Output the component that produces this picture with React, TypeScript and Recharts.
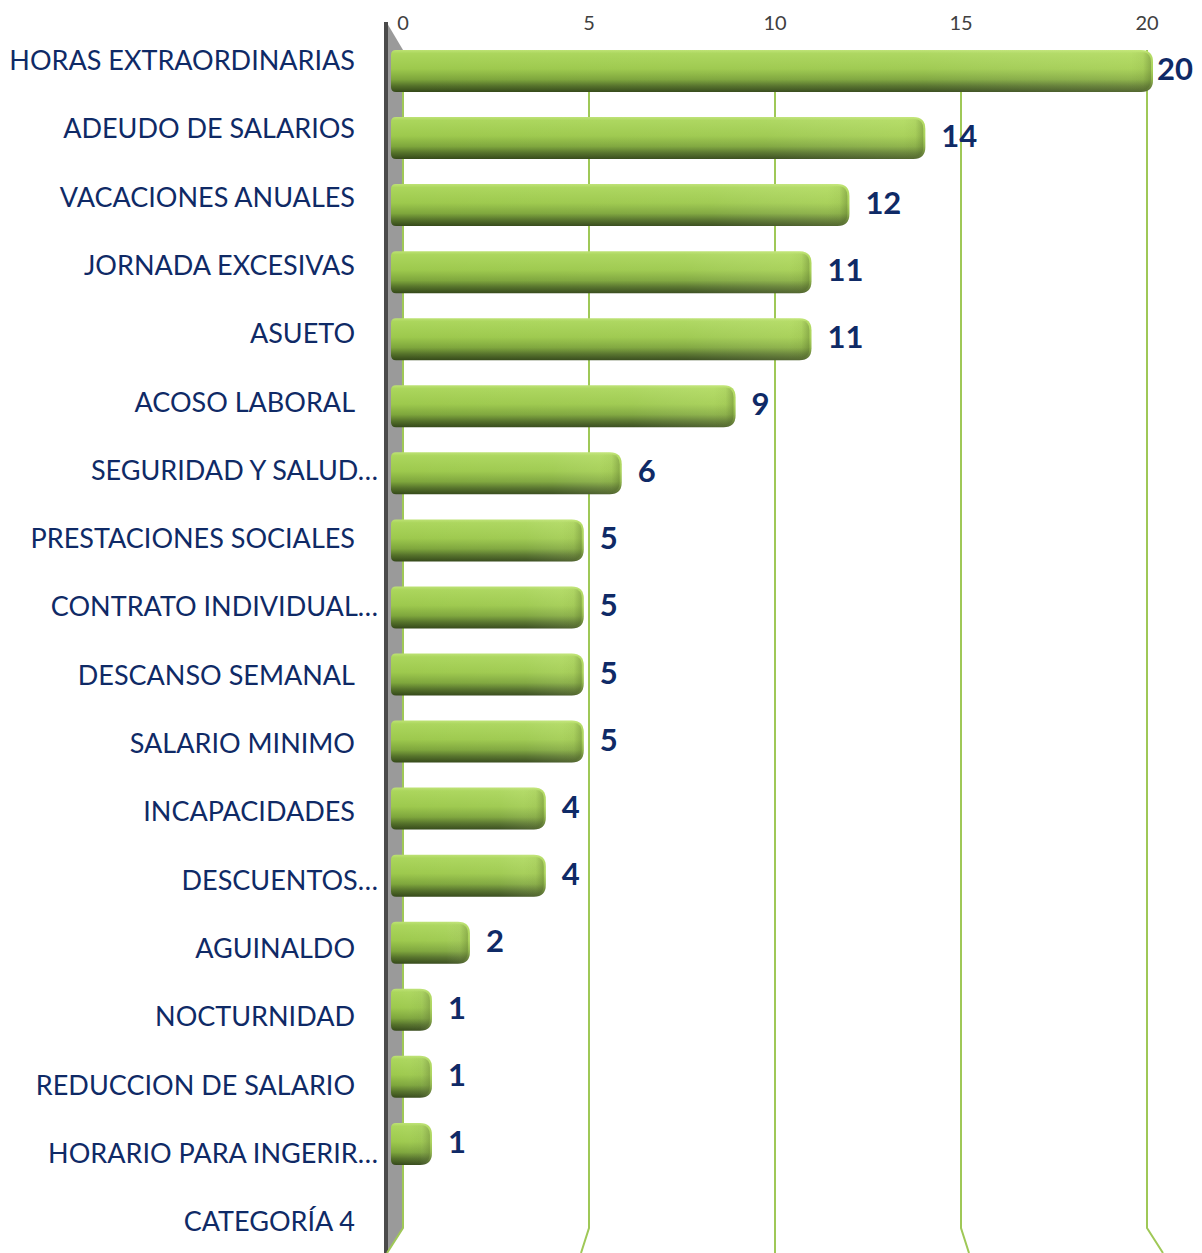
import React from "react";
import { BarChart, Bar, XAxis, YAxis, CartesianGrid, LabelList } from "recharts";

const categories = [
  "HORAS EXTRAORDINARIAS",
  "ADEUDO DE SALARIOS",
  "VACACIONES ANUALES",
  "JORNADA EXCESIVAS",
  "ASUETO",
  "ACOSO LABORAL",
  "SEGURIDAD Y SALUD…",
  "PRESTACIONES SOCIALES",
  "CONTRATO INDIVIDUAL…",
  "DESCANSO SEMANAL",
  "SALARIO MINIMO",
  "INCAPACIDADES",
  "DESCUENTOS…",
  "AGUINALDO",
  "NOCTURNIDAD",
  "REDUCCION DE SALARIO",
  "HORARIO PARA INGERIR…",
  "CATEGORÍA 4",
];
const values: (number | null)[] = [20, 14, 12, 11, 11, 9, 6, 5, 5, 5, 5, 4, 4, 2, 1, 1, 1, null];
const xTicks = [0, 5, 10, 15, 20];

const data = categories.map((name, i) => ({ name, value: values[i] }));

const W = 1202;
const H = 1253;
const LEFT = 394;
const RIGHT = 1153;
const TOP = 37;
const BOTTOM = 1244;
const NAVY = "#0f2a66";
const GRID = "#9fc857";
const FONT = "Lato, 'Open Sans', sans-serif";

// back-wall (grid) perspective: grid plane slightly narrower than bar plane
const toGrid = (px: number) => 403 + (px - LEFT) * (744 / (RIGHT - LEFT));

const GridLine = (props: any) => {
  const { x1, y1, y2, index } = props;
  const gx = toGrid(x1);
  const top = y1 + 13;
  const bend = y2 - 16;
  const bottom = y2 + 9;
  const center = toGrid((LEFT + RIGHT) / 2);
  const dx = (gx - center) * 0.043;
  if (index === 0) {
    return (
      <g key={`wall`}>
        <polygon
          points={`${gx - 16},${y1 - 14} ${gx},${top} ${gx},${bend} ${gx - 16},${bottom}`}
          fill="#9a9a9a"
        />
        <line x1={gx - 17} y1={y1 - 15} x2={gx - 17} y2={bottom} stroke="#4a4a4a" strokeWidth={4} />
        <polyline
          points={`${gx},${top} ${gx},${bend} ${gx + dx},${bottom}`}
          fill="none"
          stroke={GRID}
          strokeWidth={2}
        />
      </g>
    );
  }
  return (
    <polyline
      key={`g-${index}`}
      points={`${gx},${top} ${gx},${bend} ${gx + dx},${bottom}`}
      fill="none"
      stroke={GRID}
      strokeWidth={2}
    />
  );
};

const XTick = (props: any) => {
  const { x, payload } = props;
  return (
    <text
      x={toGrid(x)}
      y={22}
      textAnchor="middle"
      dominantBaseline="central"
      fill="#404040"
      fontSize={20}
      fontFamily={FONT}
    >
      {payload.value}
    </text>
  );
};

const YTick = (props: any) => {
  const { y, payload, index } = props;
  const label: string = payload.value;
  const trunc = label.endsWith("…");
  const shift = -11 + 1.25 * index;
  return (
    <text
      x={trunc ? 378 : 355}
      y={y + shift}
      textAnchor="end"
      dominantBaseline="central"
      fill={NAVY}
      fontSize={27}
      fontFamily={FONT}
    >
      {label}
    </text>
  );
};

const BarShape = (props: any) => {
  const { x, y, width, height, value } = props;
  if (value == null || !width) return null;
  const x0 = x - 3;
  const x1 = x + width;
  const r = 12;
  const rl = 5;
  const d = `M${x0 + rl},${y} L${x1 - r},${y} Q${x1},${y} ${x1},${y + r} L${x1},${y + height - r} Q${x1},${y + height} ${x1 - r},${y + height} L${x0 + rl},${y + height} Q${x0},${y + height} ${x0},${y + height - rl} L${x0},${y + rl} Q${x0},${y} ${x0 + rl},${y} Z`;
  return (
    <g>
      <path d={d} fill="url(#barV)" />
      <path d={d} fill="url(#barH)" />
      <path
        d={`M${x1 - 22},${y + 2} L${x1 - 10},${y + 2} Q${x1 - 2},${y + 3} ${x1 - 2},${y + 12} L${x1 - 2},${y + height - 12} Q${x1 - 2},${y + height - 3} ${x1 - 10},${y + height - 2} L${x1 - 22},${y + height - 2} Z`}
        fill="url(#capH)"
      />
    </g>
  );
};

const ValueLabel = (props: any) => {
  const { x, y, width, height, value } = props;
  if (value == null) return null;
  const off = value >= 20 ? 4 : 16;
  return (
    <text
      x={x + width + off}
      y={y + height / 2 - 3}
      textAnchor="start"
      dominantBaseline="central"
      fill={NAVY}
      fontSize={31}
      fontWeight={700}
      fontFamily={FONT}
    >
      {value}
    </text>
  );
};

export default function App() {
  return (
    <div style={{ position: "absolute", left: 0, top: 0, width: W, height: H, background: "#fff" }}>
      <BarChart
        width={W}
        height={H}
        data={data}
        layout="vertical"
        margin={{ top: 0, right: W - RIGHT, bottom: H - BOTTOM, left: 0 }}
      >
        <defs>
          <linearGradient id="barV" x1="0" y1="0" x2="0" y2="1">
            <stop offset="0" stopColor="#bde274" />
            <stop offset="0.08" stopColor="#abd65c" />
            <stop offset="0.45" stopColor="#9dc94d" />
            <stop offset="0.7" stopColor="#7ea63c" />
            <stop offset="0.85" stopColor="#55722a" />
            <stop offset="1" stopColor="#344819" />
          </linearGradient>
          <linearGradient id="barH" x1="0" y1="0" x2="1" y2="0">
            <stop offset="0" stopColor="#ffffff" stopOpacity={0} />
            <stop offset="0.7" stopColor="#ffffff" stopOpacity={0.04} />
            <stop offset="1" stopColor="#e8ff9a" stopOpacity={0.18} />
          </linearGradient>
          <linearGradient id="capH" x1="0" y1="0" x2="1" y2="0">
            <stop offset="0" stopColor="#3a5019" stopOpacity={0} />
            <stop offset="0.6" stopColor="#3a5019" stopOpacity={0.05} />
            <stop offset="1" stopColor="#3a5019" stopOpacity={0.3} />
          </linearGradient>
        </defs>
        <CartesianGrid horizontal={false} vertical={GridLine as any} />
        <XAxis
          type="number"
          orientation="top"
          domain={[0, 20]}
          ticks={xTicks}
          axisLine={false}
          tickLine={false}
          height={TOP}
          tick={XTick}
          interval={0}
        />
        <YAxis
          type="category"
          dataKey="name"
          width={LEFT}
          axisLine={false}
          tickLine={false}
          tick={YTick}
          interval={0}
        />
        <Bar dataKey="value" shape={BarShape} barSize={42} isAnimationActive={false}>
          <LabelList dataKey="value" content={ValueLabel} />
        </Bar>
      </BarChart>
    </div>
  );
}
